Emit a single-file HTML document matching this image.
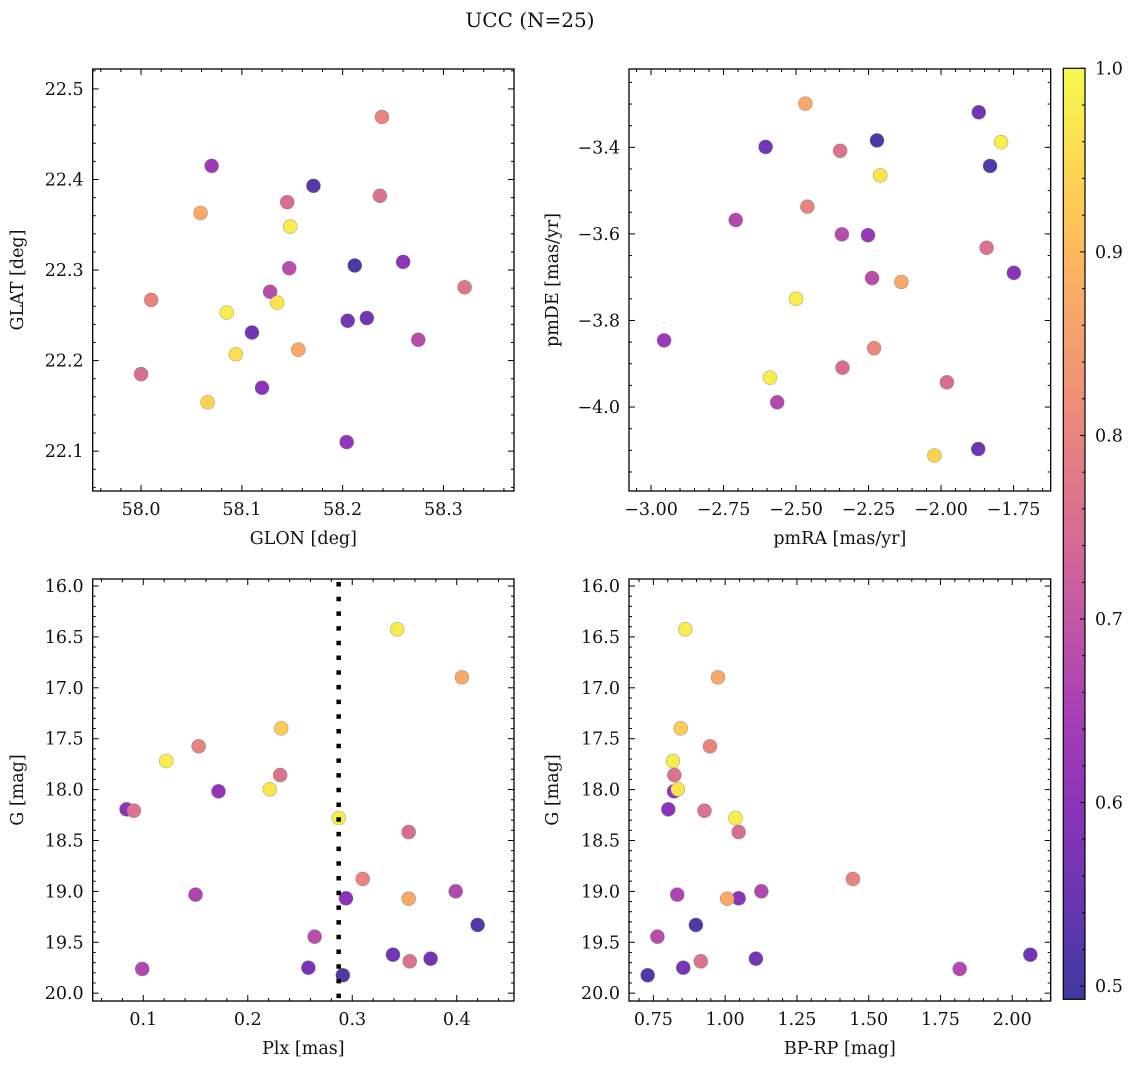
<!DOCTYPE html>
<html><head><meta charset="utf-8"><style>
html,body{margin:0;padding:0;background:#fff;}
svg{display:block;font-family:"DejaVu Serif","Liberation Serif",serif;}
</style></head><body>
<svg id="fig" width="1136" height="1068" viewBox="0 0 1136 1068" xmlns="http://www.w3.org/2000/svg">
<rect x="0" y="0" width="1136" height="1068" fill="#fff"/>
<text x="530" y="27" font-size="20" text-anchor="middle" fill="#111">UCC (N=25)</text>
<defs><linearGradient id="cbgrad" x1="0" y1="1" x2="0" y2="0"></linearGradient></defs>
</svg>
<script>
// ---- data ----
const glon = [58.239,58.070,58.171,58.237,58.145,58.059,58.148,58.147,58.212,58.260,58.010,58.321,58.128,58.135,58.085,58.110,58.205,58.224,58.275,58.156,58.094,58.000,58.120,58.066,58.204];
const glat = [22.469,22.415,22.393,22.382,22.375,22.363,22.348,22.302,22.305,22.309,22.267,22.281,22.276,22.264,22.253,22.231,22.244,22.247,22.223,22.212,22.207,22.185,22.170,22.154,22.110];
const probSky = [0.80,0.63,0.52,0.76,0.75,0.87,0.98,0.68,0.51,0.60,0.80,0.77,0.68,0.97,0.98,0.56,0.57,0.56,0.68,0.87,0.96,0.75,0.60,0.94,0.61];
const pmra = [-2.468,-1.870,-2.605,-2.348,-2.221,-1.793,-1.831,-2.210,-2.461,-2.708,-2.342,-2.252,-1.843,-1.749,-2.238,-2.137,-2.500,-2.955,-2.231,-2.340,-2.590,-1.980,-2.565,-2.023,-1.872];
const pmde = [-3.299,-3.319,-3.399,-3.408,-3.384,-3.388,-3.443,-3.465,-3.537,-3.568,-3.601,-3.603,-3.632,-3.690,-3.702,-3.711,-3.750,-3.846,-3.864,-3.909,-3.932,-3.943,-3.989,-4.112,-4.097];
const probPM = [0.87,0.56,0.56,0.76,0.51,0.98,0.52,0.97,0.80,0.67,0.68,0.62,0.76,0.60,0.68,0.87,0.98,0.63,0.81,0.75,0.98,0.75,0.67,0.94,0.55];
const plx = [0.343,0.405,0.232,0.153,0.122,0.231,0.172,0.221,0.084,0.091,0.287,0.354,0.310,0.150,0.294,0.354,0.399,0.420,0.264,0.339,0.355,0.375,0.099,0.258,0.291];
const gmag = [16.425,16.897,17.398,17.575,17.719,17.857,18.017,17.997,18.194,18.207,18.279,18.417,18.878,19.032,19.068,19.072,18.999,19.330,19.445,19.622,19.687,19.661,19.762,19.750,19.824];
const bprp = [0.861,0.975,0.845,0.947,0.818,0.823,0.822,0.835,0.802,0.928,1.036,1.047,1.445,0.833,1.047,1.007,1.126,0.898,0.764,2.063,0.915,1.107,1.817,0.854,0.730];
const probPhot = [0.98,0.87,0.93,0.80,0.98,0.76,0.61,0.97,0.60,0.76,0.98,0.75,0.80,0.66,0.60,0.87,0.67,0.52,0.68,0.56,0.76,0.56,0.67,0.57,0.52];
const plxCut = [0.287];
const ticksGlon = [58.0,58.1,58.2,58.3];
const ticksGlat = [22.1,22.2,22.3,22.4,22.5];
const ticksPmra = [-3.00,-2.75,-2.50,-2.25,-2.00,-1.75];
const ticksPmde = [-4.0,-3.8,-3.6,-3.4];
const ticksPlx = [0.1,0.2,0.3,0.4];
const ticksG = [16.0,16.5,17.0,17.5,18.0,18.5,19.0,19.5,20.0];
const ticksBprp = [0.75,1.00,1.25,1.50,1.75,2.00];
const ticksCbar = [0.5,0.6,0.7,0.8,0.9,1.0];

const FS = 17.5;
const NS = "http://www.w3.org/2000/svg";
const svg = document.getElementById('fig');
function mk(tag, attrs, parent){ const e=document.createElementNS(NS,tag); for(const k in attrs) e.setAttribute(k,attrs[k]); (parent||svg).appendChild(e); return e; }

const stops=[[0,13,8,135],[0.1,65,4,157],[0.2,106,0,168],[0.3,143,13,164],[0.4,177,42,144],[0.5,204,71,120],[0.6,225,100,98],[0.7,242,132,75],[0.8,252,166,54],[0.9,252,206,37],[1,240,249,33]];
const VMIN=0.4928, VMAX=1.0, ALPHA=0.8;
function plasma(t){ t=Math.max(0,Math.min(1,t)); let i=0; while(i<stops.length-2 && t>stops[i+1][0]) i++;
  const a=stops[i], b=stops[i+1], f=(t-a[0])/(b[0]-a[0]);
  const c=[1,2,3].map(k=>a[k]+(b[k]-a[k])*f); return c; }
function col(p){ const c=plasma((p-VMIN)/(VMAX-VMIN)); return 'rgb('+c.map(v=>Math.round(ALPHA*v+(1-ALPHA)*255)).join(',')+')'; }
function fmt(v,d){ const s=Math.abs(v).toFixed(d); return (v<0?'\u2212':'')+s; }

function panel(cfg){
  const g=mk('g',{});
  
  
  const {x0,x1,y0,y1,xmin,xmax,ymin,ymax,yinv}=cfg;
  const sx=v=>x0+(v-xmin)/(xmax-xmin)*(x1-x0);
  const sy=yinv? (v=>y0+(v-ymin)/(ymax-ymin)*(y1-y0)) : (v=>y1-(v-ymin)/(ymax-ymin)*(y1-y0));
  for(let i=0;i<cfg.xs.length;i++){
    const c=mk('circle',{cx:sx(cfg.xs[i]),cy:sy(cfg.ys[i]),r:7,fill:col(cfg.ps[i]),stroke:'rgba(110,110,110,0.55)','stroke-width':0.6},g);
    
    
  }
  if(cfg.vline){
    for(const v of cfg.vline){
      const l=mk('line',{x1:sx(v),x2:sx(v),y1:y0+3,y2:y1,stroke:'#000','stroke-width':4.5,'stroke-dasharray':'4.5 10.2'},g);
      
      
    }
  }
  const tg=mk('g',{stroke:'#000','stroke-width':1},g);
  function xt(v,len){ const X=sx(v); mk('line',{x1:X,x2:X,y1:y1,y2:y1-len},tg); mk('line',{x1:X,x2:X,y1:y0,y2:y0+len},tg); }
  function yt(v,len){ const Y=sy(v); mk('line',{x1:x0,x2:x0+len,y1:Y,y2:Y},tg); mk('line',{x1:x1,x2:x1-len,y1:Y,y2:Y},tg); }
  const xs0=cfg.xt[1]-cfg.xt[0], ys0=cfg.yt[1]-cfg.yt[0];
  const xm=xs0/cfg.xminor, ym=ys0/cfg.yminor;
  for(let k=-40;k<=400;k++){ const v=cfg.xt[0]+k*xm; if(v>=xmin&&v<=xmax) xt(v,Math.abs(Math.round(k/cfg.xminor)*cfg.xminor-k)<1e-6?6:3); }
  for(let k=-40;k<=400;k++){ const v=cfg.yt[0]+k*ym; if(v>=Math.min(ymin,ymax)&&v<=Math.max(ymin,ymax)) yt(v,Math.abs(Math.round(k/cfg.yminor)*cfg.yminor-k)<1e-6?6:3); }
  for(const v of cfg.xt){ const t=mk('text',{x:sx(v),y:y1+24,'font-size':FS,'text-anchor':'middle',fill:'#111'},g); t.textContent=fmt(v,cfg.xd);
      }
  for(const v of cfg.yt){ const t=mk('text',{x:x0-9,y:sy(v)+6,'font-size':FS,'text-anchor':'end',fill:'#111'},g); t.textContent=fmt(v,cfg.yd);
      }
  const fr=mk('rect',{x:x0,y:y0,width:x1-x0,height:y1-y0,fill:'none',stroke:'#000','stroke-width':1.3},g);
   
  const xl=mk('text',{x:(x0+x1)/2,y:y1+53,'font-size':FS,'text-anchor':'middle',fill:'#111'},g); xl.textContent=cfg.xlabel;
   
  const yx=cfg.ylx, yc=(y0+y1)/2;
  const yl=mk('text',{x:yx,y:yc,'font-size':FS,'text-anchor':'middle',fill:'#111',transform:'rotate(-90 '+yx+' '+yc+')'},g); yl.textContent=cfg.ylabel;
   
}

panel({name:'sky-position-panel',pt:'sky',x0:92.7,x1:514,y0:69,y1:491,xmin:57.952,xmax:58.370,ymin:22.056,ymax:22.522,xs:glon,ys:glat,ps:probSky,xt:ticksGlon,yt:ticksGlat,xd:1,yd:1,xminor:5,yminor:5,xlabel:'GLON [deg]',ylabel:'GLAT [deg]',ylx:23});
panel({name:'proper-motion-panel',pt:'pm',x0:629,x1:1050.7,y0:69,y1:491,xmin:-3.076,xmax:-1.622,ymin:-4.194,ymax:-3.219,xs:pmra,ys:pmde,ps:probPM,xt:ticksPmra,yt:ticksPmde,xd:2,yd:1,xminor:5,yminor:4,xlabel:'pmRA [mas/yr]',ylabel:'pmDE [mas/yr]',ylx:558});
panel({name:'parallax-panel',pt:'plx',x0:92.7,x1:514,y0:579,y1:1001,xmin:0.0516,xmax:0.4548,ymin:15.931,ymax:20.077,yinv:true,xs:plx,ys:gmag,ps:probPhot,xt:ticksPlx,yt:ticksG,xd:1,yd:1,xminor:5,yminor:5,xlabel:'Plx [mas]',ylabel:'G [mag]',ylx:23,vline:plxCut});
panel({name:'cmd-panel',pt:'cmd',x0:629,x1:1050.7,y0:579,y1:1001,xmin:0.665,xmax:2.134,ymin:15.931,ymax:20.077,yinv:true,xs:bprp,ys:gmag,ps:probPhot,xt:ticksBprp,yt:ticksG,xd:2,yd:1,xminor:5,yminor:5,xlabel:'BP-RP [mag]',ylabel:'G [mag]',ylx:558});

const cb={x0:1063.3,x1:1085,y0:68.3,y1:999.3};
const grad=document.getElementById('cbgrad');
for(let i=0;i<=20;i++){ const p=VMIN+(VMAX-VMIN)*i/20; mk('stop',{offset:(i/20),'stop-color':col(p)},grad); }
const cbg=mk('g',{});


const cbs=v=>cb.y1-(v-VMIN)/(VMAX-VMIN)*(cb.y1-cb.y0);
mk('rect',{x:cb.x0,y:cb.y0,width:cb.x1-cb.x0,height:cb.y1-cb.y0,fill:'url(#cbgrad)',stroke:'#000','stroke-width':1.2},cbg);
for(let k=0;k<=30;k++){ const v=0.4+k*0.02; if(v<VMIN-1e-9||v>VMAX+1e-9) continue; const Y=cbs(v); const major=(k%5===0);
  mk('line',{x1:cb.x1,x2:cb.x1-(major?5:3),y1:Y,y2:Y,stroke:'#000','stroke-width':1},cbg); }
for(const v of ticksCbar){ const t=mk('text',{x:cb.x1+10,y:cbs(v)+6,'font-size':FS,fill:'#111'},cbg); t.textContent=v.toFixed(1);
    }
</script>
</body></html>
